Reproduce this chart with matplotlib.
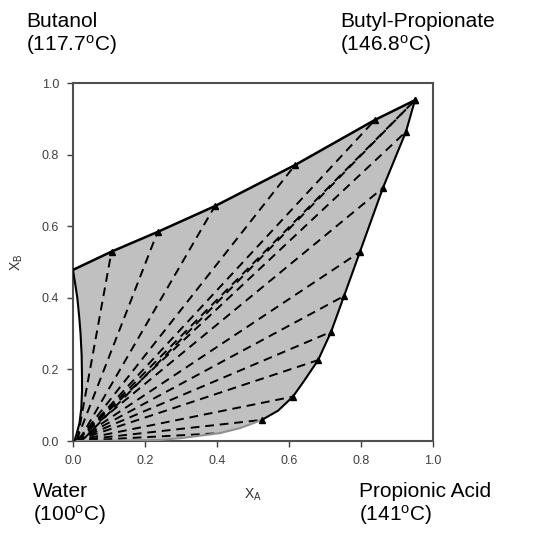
import matplotlib
matplotlib.use("Agg")
import matplotlib.pyplot as plt

plt.rcParams['font.family'] = ['Liberation Sans', 'DejaVu Sans']
plt.rcParams['mathtext.fontset'] = 'custom'
plt.rcParams['mathtext.rm'] = 'Liberation Sans'
plt.rcParams['mathtext.it'] = 'Liberation Sans'

# organic (upper / right) branch of the binodal, from butanol side to the acid side
top_xa = [0.0, 0.107, 0.235, 0.394, 0.617, 0.839, 0.95]
top_xb = [0.478, 0.529, 0.584, 0.656, 0.771, 0.897, 0.952]
right_xa = [0.95, 0.925, 0.861, 0.797, 0.753, 0.717, 0.681, 0.64, 0.611, 0.57, 0.525]
right_xb = [0.952, 0.864, 0.707, 0.528, 0.405, 0.305, 0.226, 0.165, 0.124, 0.085, 0.059]
bottom_xa = [0.525, 0.464, 0.408, 0.30, 0.24, 0.15, 0.06, 0.01]
bottom_xb = [0.059, 0.036, 0.022, 0.008, 0.003, 0.001, 0.0, 0.0]
left_xa = [0.004, 0.010, 0.018, 0.023, 0.025, 0.025, 0.024, 0.021, 0.017, 0.012, 0.006, 0.0]
left_xb = [0.0, 0.02, 0.05, 0.09, 0.14, 0.18, 0.24, 0.30, 0.35, 0.40, 0.44, 0.478]

# tie lines: organic end -> aqueous end
org_xa = [0.107, 0.235, 0.394, 0.617, 0.839, 0.95, 0.95, 0.925, 0.861, 0.797,
          0.753, 0.717, 0.681, 0.611, 0.525, 0.41]
org_xb = [0.529, 0.584, 0.656, 0.771, 0.897, 0.952, 0.952, 0.864, 0.707, 0.528,
          0.405, 0.305, 0.226, 0.124, 0.059, 0.022]
aq_xa = [0.012, 0.010, 0.018, 0.016, 0.015, 0.014, 0.03, 0.012, 0.011, 0.010,
         0.009, 0.008, 0.007, 0.006, 0.005, 0.004]
aq_xb = [0.004, 0.002, 0.004, 0.004, 0.004, 0.003, 0.006, 0.003, 0.003, 0.002,
         0.002, 0.002, 0.001, 0.001, 0.001, 0.0]

fig = plt.figure(figsize=(5.5, 5.39), dpi=100)
ax = fig.add_axes([0.1327, 0.1818, 0.6545, 0.6642])

poly_x = top_xa + right_xa[1:] + bottom_xa[1:] + left_xa
poly_y = top_xb + right_xb[1:] + bottom_xb[1:] + left_xb
ax.fill(poly_x, poly_y, color='#c0c0c0', lw=0, zorder=1)

for xa0, xb0, xa1, xb1 in zip(aq_xa, aq_xb, org_xa, org_xb):
    ax.plot([xa0, xa1], [xb0, xb1], color='black', lw=1.4, dashes=(4.5, 3), zorder=2)

ax.plot(top_xa, top_xb, color='black', lw=1.8, zorder=3)
ax.plot(right_xa, right_xb, color='black', lw=1.5, zorder=3)
ax.plot(bottom_xa, bottom_xb, color='#909090', lw=1.5, zorder=3)
ax.plot(left_xa, left_xb, color='black', lw=1.5, zorder=3)
ax.plot(org_xa[:-1], org_xb[:-1], ls='none', marker='^', ms=4, color='black', zorder=4)

ax.set_xlim(0, 1)
ax.set_ylim(0, 1)
ax.set_xticks([0.0, 0.2, 0.4, 0.6, 0.8, 1.0])
ax.set_yticks([0.0, 0.2, 0.4, 0.6, 0.8, 1.0])
ax.set_xticklabels(['0.0', '0.2', '0.4', '0.6', '0.8', '1.0'])
ax.set_yticklabels(['0.0', '0.2', '0.4', '0.6', '0.8', '1.0'])
ax.tick_params(direction='out', length=4, width=1, colors='#404040',
               labelsize=9, pad=6)
for s in ax.spines.values():
    s.set_color('#505050')
    s.set_linewidth(1.5)

ax.set_xlabel(r'X$_{\mathrm{A}}$', fontsize=10, color='#303030', labelpad=14)
ax.set_ylabel(r'X$_{\mathrm{B}}$', fontsize=10, color='#303030', labelpad=12)

lab = dict(fontsize=15, color='black', ha='left', va='top', linespacing=1.1)
fig.text(26 / 550, 1 - 12 / 539, 'Butanol\n(117.7$^{\\mathrm{o}}$C)', **lab)
fig.text(340 / 550, 1 - 12 / 539, 'Butyl-Propionate\n(146.8$^{\\mathrm{o}}$C)', **lab)
fig.text(33 / 550, 1 - 482 / 539, 'Water\n(100$^{\\mathrm{o}}$C)', **lab)
fig.text(359 / 550, 1 - 482 / 539, 'Propionic Acid\n(141$^{\\mathrm{o}}$C)', **lab)

fig.savefig('out.png', dpi=100)
